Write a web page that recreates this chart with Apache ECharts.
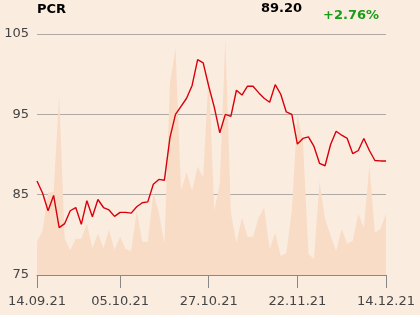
<!DOCTYPE html>
<html>
<head>
<meta charset="utf-8">
<script src="https://cdn.jsdelivr.net/npm/echarts@6/dist/echarts.min.js"></script>
<style>
html,body{margin:0;padding:0;background:#fbece0;}
#c{width:420px;height:315px;}
</style>
</head>
<body>
<div id="c"></div>
<script>
const dates = [
 "14.09.21","15.09.21","16.09.21","17.09.21","20.09.21","21.09.21","22.09.21","23.09.21","24.09.21","27.09.21","28.09.21","29.09.21","30.09.21",
 "01.10.21","04.10.21","05.10.21","06.10.21","07.10.21","08.10.21","11.10.21","12.10.21","13.10.21","14.10.21","15.10.21","18.10.21","19.10.21","20.10.21","21.10.21","22.10.21","25.10.21","26.10.21","27.10.21",
 "28.10.21","29.10.21","02.11.21","03.11.21","04.11.21","05.11.21","08.11.21","09.11.21","10.11.21","12.11.21","15.11.21","16.11.21","17.11.21","18.11.21","19.11.21","22.11.21",
 "23.11.21","24.11.21","25.11.21","26.11.21","29.11.21","30.11.21","01.12.21","02.12.21","03.12.21","06.12.21","07.12.21","08.12.21","09.12.21","10.12.21","13.12.21","14.12.21"
];
const prices = [
 86.7,85.2,83.0,84.9,80.9,81.4,83.0,83.4,81.3,84.25,82.25,84.4,83.4,83.1,82.3,82.8,
 82.8,82.7,83.5,84.0,84.1,86.3,86.9,86.8,92.1,95.0,96.0,97.0,98.6,101.8,101.4,98.5,
 95.9,92.7,95.0,94.75,98.0,97.4,98.5,98.5,97.7,97.0,96.5,98.7,97.5,95.3,95.0,91.3,
 92.0,92.2,91.0,88.9,88.6,91.25,92.9,92.4,92.0,90.1,90.5,92.0,90.5,89.25,89.2,89.2
];
const volumes = [
 33,44,82,83,179,36,25,36,36,51,27,41,27,45,25,38,
 26,24,64,33,33,82,62,31,191,226,84,102,84,108,97,202,
 64,91,235,62,32,57,38,38,57,67,26,42,19,22,64,159,
 134,21,16,93,56,39,24,46,31,34,61,47,109,42,46,61
];
const yTicks = [75, 105];
const labelIdx = [0, 15, 31, 47, 63];
const title = "PCR";
const lastPrice = "89.20";
const change = "+2.76%";

const chart = echarts.init(document.getElementById('c'), null, {renderer:'canvas'});
const font = "DejaVu Sans";
chart.setOption({
  backgroundColor: '#fbece0',
  animation: false,
  textStyle: {fontFamily: font},
  title: [
    {text: title, left: 37, top: 3, padding: 0, textStyle: {fontFamily: font, fontSize: 13, fontWeight: 'bold', color: '#000'}},
    {text: lastPrice, right: 118, top: 2, padding: 0, textStyle: {fontFamily: font, fontSize: 13, fontWeight: 'bold', color: '#000'}},
    {text: change, right: 41, top: 9, padding: 0, textStyle: {fontFamily: font, fontSize: 13, fontWeight: 'bold', color: '#1a9c1a'}}
  ],
  grid: {left: 37, right: 34, top: 34, bottom: 40},
  xAxis: {
    type: 'category',
    data: dates,
    boundaryGap: false,
    axisLine: {show: true, lineStyle: {color: '#888', width: 1}},
    axisTick: {show: true, length: 13, lineStyle: {color: '#888'}, interval: (i) => labelIdx.includes(i)},
    axisLabel: {color: '#444', fontSize: 13, fontFamily: font, margin: 20, interval: (i) => labelIdx.includes(i)},
    splitLine: {show: false}
  },
  yAxis: [
    {
      type: 'value', min: yTicks[0], max: yTicks[1], interval: 10,
      axisLine: {show: false}, axisTick: {show: false},
      axisLabel: {color: '#444', fontSize: 13, fontFamily: font, margin: 8},
      splitLine: {show: true, lineStyle: {color: '#b0aaa5', width: 1}}
    },
    {
      type: 'value', min: 0, max: 240, show: false,
      splitLine: {show: false}
    }
  ],
  series: [
    {
      type: 'line', yAxisIndex: 1, data: volumes, symbol: 'none',
      lineStyle: {width: 0}, areaStyle: {color: '#f8dcc6', opacity: 1},
      z: 1
    },
    {
      type: 'line', yAxisIndex: 0, data: prices, symbol: 'none',
      lineStyle: {color: '#d8000c', width: 1.4},
      z: 3
    }
  ]
});
</script>
</body>
</html>
